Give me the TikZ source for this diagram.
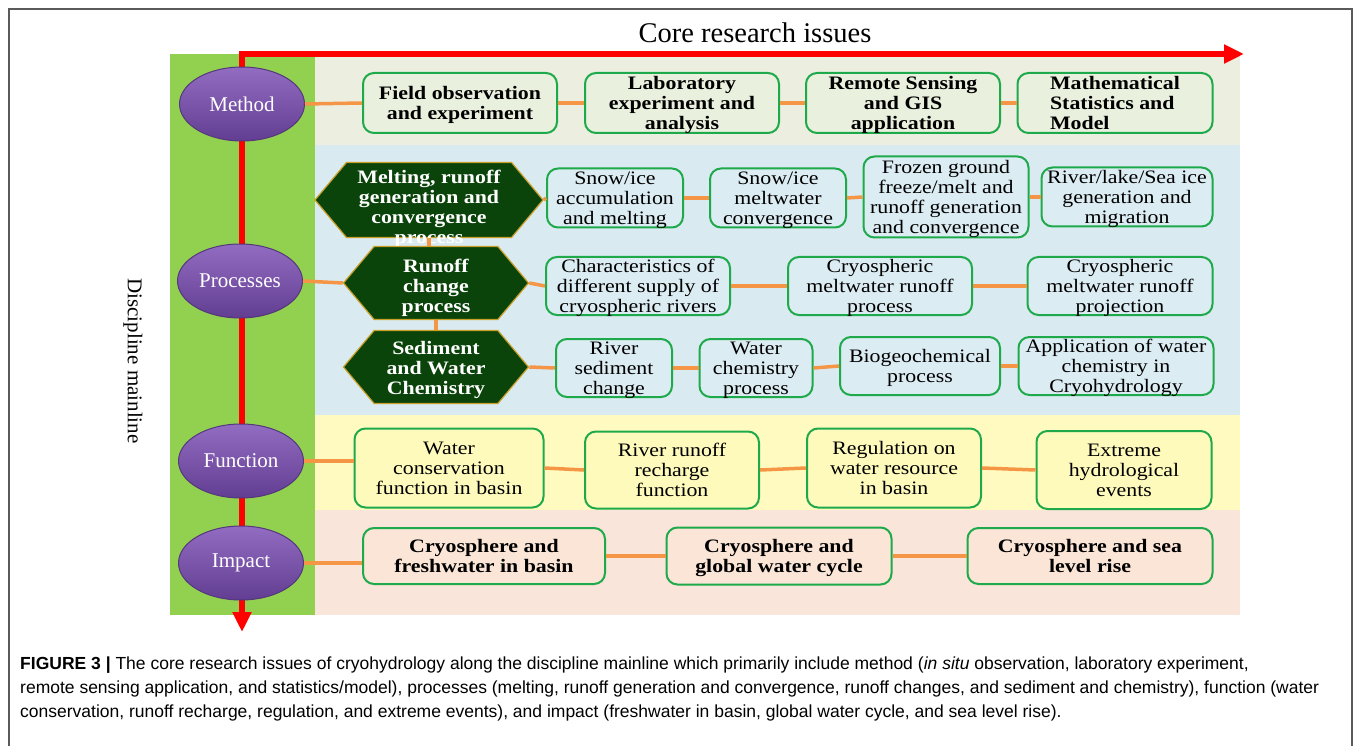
\documentclass[tikz,border=0pt]{standalone}
\usepackage{fontspec}
\setmainfont{Liberation Serif}
\newfontfamily\boxfont[FakeStretch=1.15]{Liberation Serif}
\newfontfamily\capfont{Liberation Sans}
\usetikzlibrary{shapes.geometric,shapes.symbols,arrows.meta}
\definecolor{stripgreen}{RGB}{146,208,80}
\definecolor{methodband}{RGB}{236,238,224}
\definecolor{processband}{RGB}{218,234,241}
\definecolor{functionband}{RGB}{255,251,192}
\definecolor{impactband}{RGB}{249,229,217}
\definecolor{methodfill}{RGB}{233,240,221}
\definecolor{processfill}{RGB}{220,236,243}
\definecolor{functionfill}{RGB}{254,250,188}
\definecolor{impactfill}{RGB}{250,229,215}
\definecolor{boxgreen}{RGB}{30,170,75}
\definecolor{linkorange}{RGB}{245,150,70}
\definecolor{axisred}{RGB}{255,0,0}
\definecolor{hexgreen}{RGB}{10,68,10}
\definecolor{hexgold}{RGB}{200,160,40}
\definecolor{stagetop}{RGB}{146,108,192}
\definecolor{stagebottom}{RGB}{98,62,146}
\definecolor{stageedge}{RGB}{85,55,125}
\definecolor{framegray}{RGB}{90,90,90}

\begin{document}
\begin{tikzpicture}[x=1pt,y=1pt]
\tikzstyle{every node}+=[inner sep=0pt]
\tikzstyle{cbox}=[draw=boxgreen, line width=2pt, rounded corners=11pt, align=center, text depth=0pt, font=\boxfont\fontsize{19}{20}\selectfont]
\tikzstyle{mbox}=[cbox, fill=methodfill, font=\boxfont\fontsize{19}{20}\selectfont\bfseries]
\tikzstyle{pbox}=[cbox, fill=processfill]
\tikzstyle{fbox}=[cbox, fill=functionfill]
\tikzstyle{ibox}=[cbox, fill=impactfill, font=\boxfont\fontsize{19}{20}\selectfont\bfseries]
\tikzstyle{hexbox}=[shape=signal, signal to=east and west, signal pointer angle=100, fill=hexgreen, draw=hexgold, line width=1.2pt]
\tikzstyle{hextext}=[align=center, text=white, font=\boxfont\fontsize{19}{20}\selectfont\bfseries]
\tikzstyle{stage}=[ellipse, minimum width=125pt, minimum height=74pt, top color=stagetop, bottom color=stagebottom, draw=stageedge, line width=1pt, text=white, font=\fontsize{21}{22}\selectfont]
\tikzstyle{orangelink}=[linkorange, line width=3.5pt]
\tikzstyle{axisline}=[axisred, line width=6pt, {Triangle[length=20pt,width=18pt]}-{Triangle[length=20pt,width=18pt]}]
\useasboundingbox (0,0) rectangle (1355,-746);
\draw [framegray, line width=1.5pt] (9,-746) -- (9,-9) -- (1352,-9) -- (1352,-746);
\fill [stripgreen] (170,-54) rectangle (315,-615);
\fill [methodband] (315,-54) rectangle (1240,-145);
\fill [processband] (315,-145) rectangle (1240,-415);
\fill [functionband] (315,-415) rectangle (1240,-510);
\fill [impactband] (315,-510) rectangle (1240,-615);
\node [font=\fontsize{28.5}{30}\selectfont] (title) at (755,-33) {Core research issues};
\node [rotate=-90, font=\fontsize{21}{24}\selectfont] (mainline) at (133,-361) {Discipline mainline};
\coordinate (xend) at (1244,-54);
\coordinate (corner) at (242,-54);
\coordinate (yend) at (242,-632);
\draw [axisline] (xend) -- (corner) -- (yend);
\node [stage] (eM) at (242,-104) {Method};
\node [stage] (eP) at (240,-281) {Processes};
\node [stage] (eF) at (241,-461) {Function};
\node [stage] (eI) at (241,-563) {Impact};
\node [mbox, minimum width=194pt, minimum height=60pt] (mA) at (460,-103) {Field observation\\and experiment};
\node [mbox, minimum width=194pt, minimum height=60pt] (mB) at (682,-103) {Laboratory\\experiment and\\analysis};
\node [mbox, minimum width=194pt, minimum height=60pt] (mC) at (903,-103) {Remote Sensing\\and GIS\\application};
\node [mbox, minimum width=195pt, minimum height=60pt, align=left] (mD) at (1115,-103) {Mathematical\\Statistics and\\Model};
\node [hexbox, minimum width=228pt, minimum height=75pt] (hA) at (429,-200) {};
\node [hextext] (hAtext) at (429,-209) {Melting, runoff\\generation and\\convergence\\process};
\node [hexbox, minimum width=185pt, minimum height=73pt] (hB) at (436,-283) {};
\node [hextext] (hBtext) at (436,-288) {Runoff\\change\\process};
\node [hexbox, minimum width=185pt, minimum height=73pt] (hC) at (436,-367) {};
\node [hextext] (hCtext) at (436,-370) {Sediment\\and Water\\Chemistry};
\node [pbox, minimum width=136pt, minimum height=59pt] (pA1) at (615,-198) {Snow/ice\\accumulation\\and melting};
\node [pbox, minimum width=136pt, minimum height=59pt] (pA2) at (778,-198) {Snow/ice\\meltwater\\convergence};
\node [pbox, minimum width=165pt, minimum height=81pt] (pA3) at (946,-197) {Frozen ground\\freeze/melt and\\runoff generation\\and convergence};
\node [pbox, minimum width=171pt, minimum height=59pt] (pA4) at (1127,-197) {River/lake/Sea ice\\generation and\\migration};
\node [pbox, minimum width=184pt, minimum height=58pt] (pB1) at (638,-286) {Characteristics of\\different supply of\\cryospheric rivers};
\node [pbox, minimum width=184pt, minimum height=58pt] (pB2) at (880,-286) {Cryospheric\\meltwater runoff\\process};
\node [pbox, minimum width=185pt, minimum height=58pt] (pB3) at (1120,-286) {Cryospheric\\meltwater runoff\\projection};
\node [pbox, minimum width=116pt, minimum height=58pt] (pC1) at (614,-368) {River\\sediment\\change};
\node [pbox, minimum width=113pt, minimum height=58pt] (pC2) at (756,-368) {Water\\chemistry\\process};
\node [pbox, minimum width=160pt, minimum height=58pt] (pC3) at (920,-366) {Biogeochemical\\process};
\node [pbox, minimum width=195pt, minimum height=58pt] (pC4) at (1116,-366) {Application of water\\chemistry in\\Cryohydrology};
\node [fbox, minimum width=189pt, minimum height=79pt] (fA) at (449,-468) {Water\\conservation\\function in basin};
\node [fbox, minimum width=174pt, minimum height=77pt] (fB) at (672,-470) {River runoff\\recharge\\function};
\node [fbox, minimum width=174pt, minimum height=79pt] (fC) at (894,-468) {Regulation on\\water resource\\in basin};
\node [fbox, minimum width=175pt, minimum height=78pt] (fD) at (1124,-470) {Extreme\\hydrological\\events};
\node [ibox, minimum width=242pt, minimum height=56pt] (iA) at (484,-556) {Cryosphere and\\freshwater in basin};
\node [ibox, minimum width=225pt, minimum height=57pt] (iB) at (779,-556) {Cryosphere and\\global water cycle};
\node [ibox, minimum width=245pt, minimum height=56pt] (iC) at (1090,-556) {Cryosphere and sea\\level rise};
\draw [orangelink] (eM.east) -- (mA.west);
\draw [orangelink] (mA.east) -- (mB.west);
\draw [orangelink] (mB.east) -- (mC.west);
\draw [orangelink] (mC.east) -- (mD.west);
\draw [orangelink] (hA.east) -- (pA1.west);
\draw [orangelink] (pA1.east) -- (pA2.west);
\draw [orangelink] (pA2.east) -- (pA3.west);
\draw [orangelink] (pA3.east) -- (pA4.west);
\draw [orangelink] (eP.east) -- (hB.west);
\draw [orangelink] (hB.east) -- (pB1.west);
\draw [orangelink] (pB1.east) -- (pB2.west);
\draw [orangelink] (pB2.east) -- (pB3.west);
\draw [orangelink] (hC.east) -- (pC1.west);
\draw [orangelink] (pC1.east) -- (pC2.west);
\draw [orangelink] (pC2.east) -- (pC3.west);
\draw [orangelink] (pC3.east) -- (pC4.west);
\draw [orangelink] (hA.south) -- (hA.south |- hB.north);
\draw [orangelink] (hB.south) -- (hB.south |- hC.north);
\draw [orangelink] (eF.east) -- (eF.east -| fA.west);
\draw [orangelink] (fA.east) -- (fB.west);
\draw [orangelink] (fB.east) -- (fC.west);
\draw [orangelink] (fC.east) -- (fD.west);
\draw [orangelink] (eI.east) -- (eI.east -| iA.west);
\draw [orangelink] (iA.east) -- (iB.west);
\draw [orangelink] (iB.east) -- (iC.west);
\node [anchor=north west, align=left, font=\capfont\fontsize{17.5}{24}\selectfont] (caption) at (20,-657) {\textbf{FIGURE 3 |} The core research issues of cryohydrology along the discipline mainline which primarily include method (\textit{in situ} observation, laboratory experiment,\\remote sensing application, and statistics/model), processes (melting, runoff generation and convergence, runoff changes, and sediment and chemistry), function (water\\conservation, runoff recharge, regulation, and extreme events), and impact (freshwater in basin, global water cycle, and sea level rise).};
\end{tikzpicture}
\end{document}
